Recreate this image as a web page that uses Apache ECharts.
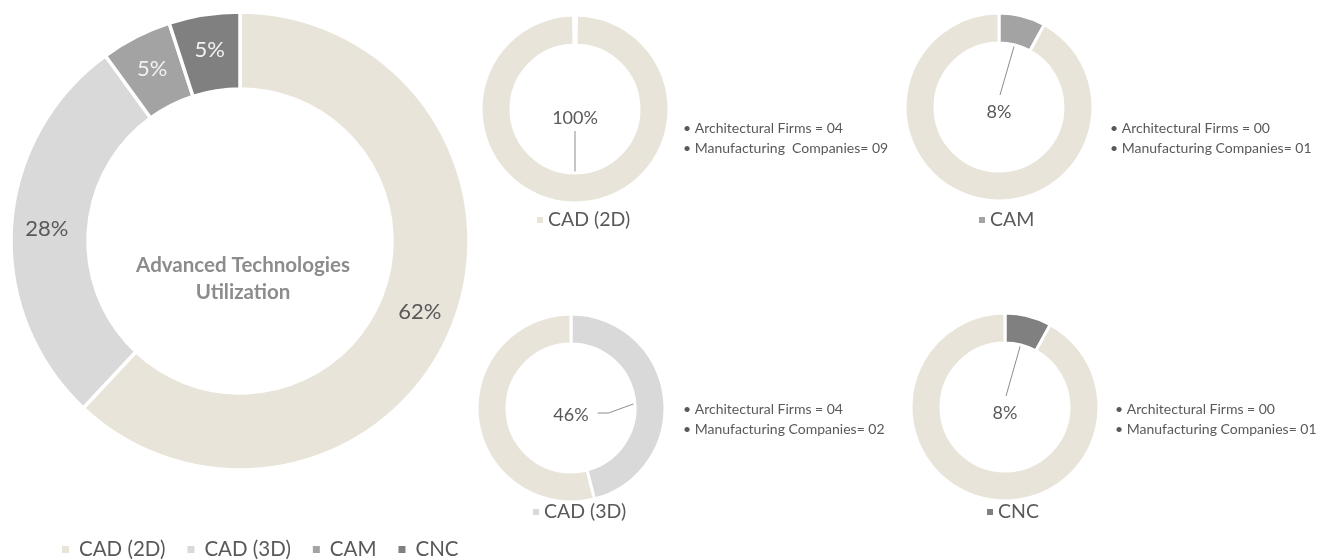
<!DOCTYPE html>
<html>
<head>
<meta charset="utf-8">
<title>Advanced Technologies Utilization</title>
<script src="https://cdn.jsdelivr.net/npm/echarts@6/dist/echarts.min.js"></script>
<style>
  html, body { margin: 0; padding: 0; background: #ffffff; }
  #chart { width: 1336px; height: 560px; }
</style>
</head>
<body>
<div id="chart"></div>
<script>
// ---- data -------------------------------------------------------------
const technologies = ['CAD (2D)', 'CAD (3D)', 'CAM', 'CNC'];
// overall share of each technology (%)
const utilizationShare = [62, 28, 5, 5];
// share of organisations using each technology (%) and the remainder
const adoptionShare = [100, 46, 8, 8];
const remainderShare = [0, 54, 92, 92];
// respondent counts shown next to each small ring
const architecturalFirms = ['04', '04', '00', '00'];
const manufacturingCompanies = ['09', '02', '01', '01'];
const firmLabel = ['Architectural Firms = ', 'Architectural Firms = ', 'Architectural Firms = ', 'Architectural Firms = '];
const companyLabel = ['Manufacturing  Companies= ', 'Manufacturing Companies= ', 'Manufacturing Companies= ', 'Manufacturing Companies= '];

// ---- styling & layout ---------------------------------------------------
const FONT = 'Lato, "Open Sans", sans-serif';
const TEXT = '#595959';
const palette = {
  'CAD (2D)': '#E8E4D9',
  'CAD (3D)': '#D9D9D9',
  'CAM': '#A3A3A3',
  'CNC': '#808080'
};
const remainderColor = '#E8E4D9';
const mainLabelColor = ['#595959', '#595959', '#F2F2F2', '#F2F2F2'];

const SMALL_R = [64, 94];
const smallLayout = {
  'CAD (2D)': { center: [575, 109], legend: [535, 210], notes: [683, 118], leader: 'bottom', pad: 1.8, dy: 9 },
  'CAD (3D)': { center: [571, 408], legend: [531, 502], notes: [683, 399], leader: 'right', pad: 0, dy: 7 },
  'CAM':      { center: [999, 107], legend: [977, 210], notes: [1110, 118], leader: 'top', pad: 0, dy: 5 },
  'CNC':      { center: [1005, 407], legend: [985, 502], notes: [1115, 399], leader: 'top', pad: 0, dy: 6 }
};

const chart = echarts.init(document.getElementById('chart'), null, { renderer: 'canvas' });

// main ring
const series = [{
  type: 'pie',
  name: 'Advanced Technologies Utilization',
  center: [240, 241],
  radius: [152, 229],
  startAngle: 90,
  clockwise: true,
  avoidLabelOverlap: false,
  emphasis: { disabled: true },
  itemStyle: { borderColor: '#ffffff', borderWidth: 3.5 },
  label: {
    show: true,
    position: 'inside',
    formatter: '{c}%',
    fontFamily: FONT,
    fontSize: 22
  },
  labelLine: { show: false },
  data: technologies.map((name, i) => ({
    name: name,
    value: utilizationShare[i],
    itemStyle: { color: palette[name] },
    label: { color: mainLabelColor[i] }
  }))
}];

// one small ring per technology
technologies.forEach((name, i) => {
  const L = smallLayout[name];
  const values = [adoptionShare[i], remainderShare[i]];
  const total = values[0] + values[1];
  const data = [{
    name: name,
    value: adoptionShare[i],
    itemStyle: { color: palette[name] },
    label: { show: true },
    labelLine: { show: true }
  }];
  if (remainderShare[i] > 0) {
    data.push({
      name: 'Other',
      value: remainderShare[i],
      itemStyle: { color: remainderColor },
      label: { show: false },
      labelLine: { show: false }
    });
  }
  series.push({
    type: 'pie',
    name: 'Adoption: ' + name,
    center: L.center,
    radius: SMALL_R,
    startAngle: 90,
    clockwise: true,
    padAngle: L.pad,
    avoidLabelOverlap: false,
    emphasis: { disabled: true },
    itemStyle: { borderColor: '#ffffff', borderWidth: 3 },
    label: {
      show: false,
      position: 'outside',
      formatter: '{c}%',
      fontFamily: FONT,
      fontSize: 18,
      color: TEXT
    },
    labelLine: { show: false, lineStyle: { color: '#8C8C8C', width: 1 } },
    // the percentage sits inside the hole, tied to its slice by a leader line
    labelLayout: function (params) {
      if (params.dataIndex !== 0) return {};
      const cx = L.center[0], cy = L.center[1];
      const lx = cx, ly = cy + L.dy;
      const w = params.labelRect.width, h = params.labelRect.height;
      const theta = (values[0] / total) * Math.PI; // mid-angle of first slice
      const rMid = (SMALL_R[0] + SMALL_R[1]) / 2;
      const p0 = [cx + rMid * Math.sin(theta), cy - rMid * Math.cos(theta)];
      let pts;
      if (L.leader === 'bottom') {
        pts = [p0, [lx, ly + h / 2 + 4]];
      } else if (L.leader === 'right') {
        pts = [p0, [lx + w / 2 + 20, ly - 2], [lx + w / 2 + 9, ly - 2]];
      } else {
        pts = [p0, [lx + 1, ly - h / 2 - 8]];
      }
      return { x: lx, y: ly, align: 'center', verticalAlign: 'middle', labelLinePoints: pts };
    },
    data: data
  });
});

// legends: one for the main ring, one under each small ring
const legends = [{
  data: technologies,
  left: 60,
  top: 539,
  padding: 0,
  icon: 'rect',
  itemWidth: 9,
  itemHeight: 9,
  itemGap: 20,
  selectedMode: false,
  textStyle: { fontFamily: FONT, fontSize: 20.5, color: TEXT, padding: [0, 0, 0, 4] }
}];
technologies.forEach(name => {
  const L = smallLayout[name];
  legends.push({
    data: [name],
    left: L.legend[0],
    top: L.legend[1],
    padding: 0,
    icon: 'rect',
    itemWidth: 8,
    itemHeight: 8,
    selectedMode: false,
    textStyle: { fontFamily: FONT, fontSize: 19.5, color: TEXT, padding: [0, 0, 0, -1] }
  });
});

// centre caption and respondent notes
const graphics = [{
  type: 'text',
  x: 243,
  y: 279,
  style: {
    text: 'Advanced Technologies\nUtilization',
    font: 'bold 20.5px ' + FONT,
    fill: '#8C8C8C',
    lineHeight: 27,
    align: 'center',
    verticalAlign: 'middle',
    textAlign: 'center',
    textVerticalAlign: 'middle'
  }
}];
technologies.forEach((name, i) => {
  const L = smallLayout[name];
  graphics.push({
    type: 'text',
    left: L.notes[0],
    top: L.notes[1],
    style: {
      text: '\u2022 ' + firmLabel[i] + architecturalFirms[i] +
            '\n\u2022 ' + companyLabel[i] + manufacturingCompanies[i],
      font: '14px ' + FONT,
      fill: TEXT,
      lineHeight: 20
    }
  });
});

chart.setOption({
  animation: false,
  backgroundColor: '#ffffff',
  color: technologies.map(n => palette[n]),
  legend: legends,
  graphic: graphics,
  series: series
});
</script>
</body>
</html>
